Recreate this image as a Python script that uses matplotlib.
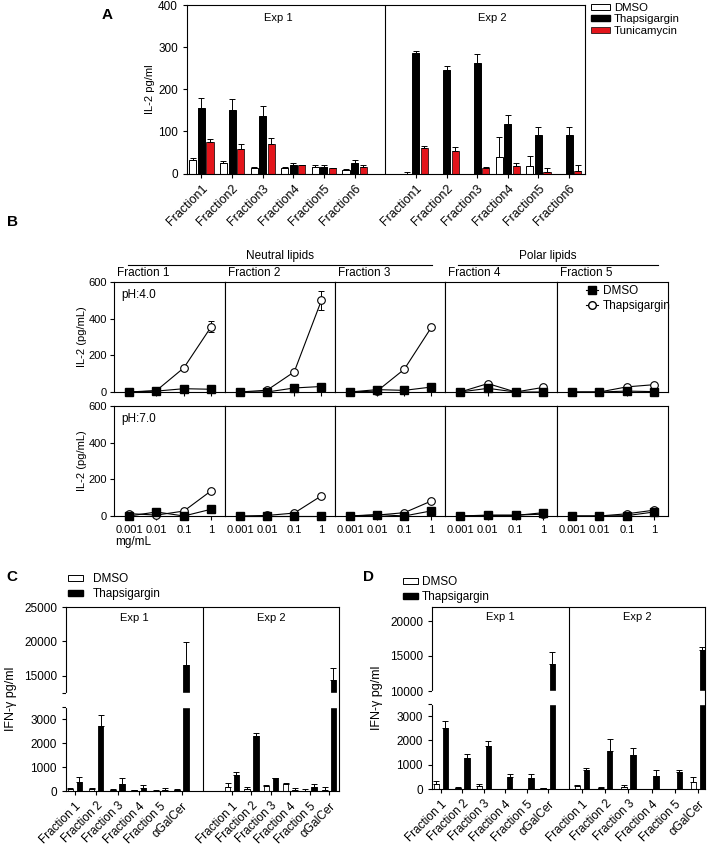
import numpy as np
import matplotlib.pyplot as plt
from matplotlib.patches import Patch
from matplotlib.lines import Line2D

plt.rcParams['font.family'] = ['Liberation Sans', 'DejaVu Sans']
plt.rcParams['font.size'] = 8
plt.rcParams['axes.linewidth'] = 0.8
plt.rcParams['xtick.major.width'] = 0.8
plt.rcParams['ytick.major.width'] = 0.8
plt.rcParams['xtick.major.size'] = 3
plt.rcParams['ytick.major.size'] = 3

# ---------------- data ----------------
# panel A: IL-2 (pg/ml)
a_labels = ['Fraction1', 'Fraction2', 'Fraction3', 'Fraction4', 'Fraction5', 'Fraction6']
a_exp1_dmso = [32, 26, 13, 13, 15, 9]
a_exp1_dmso_err = [4, 3, 3, 3, 4, 2]
a_exp1_thap = [155, 150, 137, 20, 16, 24]
a_exp1_thap_err = [25, 26, 24, 4, 3, 7]
a_exp1_tuni = [74, 59, 71, 19, 12, 15]
a_exp1_tuni_err = [7, 12, 14, 0, 0, 4]
a_exp2_dmso = [0, 0, 0, 40, 18, 0]
a_exp2_dmso_err = [3, 0, 0, 46, 24, 0]
a_exp2_thap = [286, 246, 262, 118, 92, 91]
a_exp2_thap_err = [5, 9, 22, 20, 19, 19]
a_exp2_tuni = [60, 53, 12, 17, 4, 6]
a_exp2_tuni_err = [6, 10, 4, 8, 9, 14]

# panel B: IL-2 (pg/mL) vs lipid concentration
b_conc = ['0.001', '0.01', '0.1', '1']
b_fractions = ['Fraction 1', 'Fraction 2', 'Fraction 3', 'Fraction 4', 'Fraction 5']
b_ph4_dmso = [[0, 5, 18, 15], [0, 0, 22, 30], [0, 13, 9, 27], [0, 20, 0, 0], [0, 0, 5, 2]]
b_ph4_thap = [[0, 8, 132, 357], [0, 10, 110, 500], [0, 5, 124, 353], [0, 46, 0, 25], [0, 0, 28, 40]]
b_ph4_thap_err = [[0, 0, 0, 28], [0, 0, 0, 52], [0, 0, 0, 0], [0, 0, 0, 0], [0, 0, 0, 0]]
b_ph7_dmso = [[0, 22, 0, 37], [0, 0, 0, 0], [0, 8, 0, 28], [0, 3, 3, 18], [0, 0, 2, 22]]
b_ph7_thap = [[13, 5, 27, 138], [0, 3, 16, 110], [0, 5, 18, 82], [0, 5, 5, 10], [0, 0, 12, 32]]

# panels C and D: IFN-gamma (pg/ml)
cd_labels = ['Fraction 1', 'Fraction 2', 'Fraction 3', 'Fraction 4', 'Fraction 5', 'αGalCer']
c_exp1_dmso = [90, 70, 40, 50, 20, 50]
c_exp1_dmso_err = [40, 60, 40, 10, 10, 40]
c_exp1_thap = [370, 2690, 305, 140, 60, 16600]
c_exp1_thap_err = [200, 480, 250, 100, 60, 3300]
c_exp2_dmso = [150, 90, 190, 300, 10, 60]
c_exp2_dmso_err = [180, 60, 70, 40, 60, 90]
c_exp2_thap = [680, 2280, 530, 40, 180, 14370]
c_exp2_thap_err = [100, 150, 10, 90, 110, 1730]

d_exp1_dmso = [200, 55, 130, 20, 20, 40]
d_exp1_dmso_err = [110, 20, 60, 0, 0, 0]
d_exp1_thap = [2500, 1290, 1760, 500, 460, 13900]
d_exp1_thap_err = [290, 150, 200, 110, 160, 1700]
d_exp2_dmso = [120, 50, 70, 20, 20, 300]
d_exp2_dmso_err = [60, 40, 100, 0, 0, 180]
d_exp2_thap = [790, 1550, 1410, 550, 720, 15800]
d_exp2_thap_err = [60, 510, 280, 230, 60, 550]

RED = '#e3151b'

W, H = 709, 851
fig = plt.figure(figsize=(W / 100, H / 100), dpi=100)


def rect(l, t, r, b):
    return [l / W, 1 - b / H, (r - l) / W, (b - t) / H]


def up_err(err):
    err = np.asarray(err, float)
    return [np.zeros_like(err), err]


ekw = dict(capsize=2, elinewidth=0.7, capthick=0.7, ecolor='black')

# ---------------- panel A ----------------
ax = fig.add_axes(rect(187, 5, 585, 173.5))
x1 = np.arange(6)
x2 = np.arange(6) + 7
bw = 0.23
for xs, d, de, t, te, u, ue in [
        (x1, a_exp1_dmso, a_exp1_dmso_err, a_exp1_thap, a_exp1_thap_err, a_exp1_tuni, a_exp1_tuni_err),
        (x2, a_exp2_dmso, a_exp2_dmso_err, a_exp2_thap, a_exp2_thap_err, a_exp2_tuni, a_exp2_tuni_err)]:
    ax.bar(xs - 0.28, d, bw, color='white', edgecolor='black', lw=0.7, yerr=up_err(de), error_kw=ekw)
    ax.bar(xs, t, bw, color='black', edgecolor='black', lw=0.7, yerr=up_err(te), error_kw=ekw)
    ax.bar(xs + 0.28, u, bw, color=RED, edgecolor='black', lw=0.5, yerr=up_err(ue), error_kw=ekw)
ax.axvline(6, color='black', lw=0.8)
ax.set_xlim(-0.47, 12.52)
ax.set_ylim(0, 400)
ax.set_yticks([0, 100, 200, 300, 400])
ax.tick_params(axis='y', labelsize=8.5)
ax.set_xticks(np.concatenate([x1, x2]))
ax.set_xticklabels(a_labels + a_labels, rotation=45, ha='right', rotation_mode='anchor', fontsize=9)
ax.set_ylabel('IL-2 pg/ml')
ax.yaxis.set_label_coords(-0.08, 0.5)
ax.text(2.5, 0.95, 'Exp 1', transform=ax.get_xaxis_transform(), ha='center', va='top')
ax.text(9.5, 0.95, 'Exp 2', transform=ax.get_xaxis_transform(), ha='center', va='top')
handles = [Patch(facecolor='white', edgecolor='black', lw=0.7),
           Patch(facecolor='black', edgecolor='black'),
           Patch(facecolor=RED, edgecolor='black', lw=0.5)]
fig.legend(handles, ['DMSO', 'Thapsigargin', 'Tunicamycin'], loc='upper left',
           bbox_to_anchor=(591 / W, 1 - 3 / H), frameon=False, handlelength=1.7,
           handleheight=0.45, handletextpad=0.3, labelspacing=0.12, borderpad=0,
           borderaxespad=0, fontsize=8.2)

# ---------------- panel B ----------------
col_edges = [114, 225, 335, 445, 557, 668]
rows = [(282, 392, b_ph4_dmso, b_ph4_thap, b_ph4_thap_err, 'pH:4.0'),
        (406, 516, b_ph7_dmso, b_ph7_thap, None, 'pH:7.0')]
xc = np.arange(4)
for ri, (top, bot, dm, th, the, ph) in enumerate(rows):
    for ci in range(5):
        ax = fig.add_axes(rect(col_edges[ci], top, col_edges[ci + 1], bot))
        ax.plot(xc, th[ci], color='black', lw=0.8, marker='o', ms=5.5, mfc='white',
                mec='black', mew=0.8, clip_on=False, zorder=3)
        if the is not None and any(th_e > 0 for th_e in the[ci]):
            ax.errorbar(xc, th[ci], yerr=the[ci], fmt='none', ecolor='black',
                        elinewidth=0.7, capsize=2, capthick=0.7, zorder=2)
        ax.plot(xc, dm[ci], color='black', lw=0.8, marker='s', ms=5.5, clip_on=False, zorder=4)
        ax.set_xlim(-0.55, 3.5)
        ax.set_ylim(0, 600)
        ax.set_xticks(xc)
        if ri == 1:
            ax.set_xticklabels(b_conc, fontsize=8)
        else:
            ax.set_xticklabels([])
            ax.text(0.03, 1.03, b_fractions[ci], transform=ax.transAxes, ha='left',
                    va='bottom', fontsize=8.5)
        if ci == 0:
            ax.set_yticks([0, 200, 400, 600])
            ax.tick_params(axis='y', labelsize=8, pad=2)
            ax.set_ylabel('IL-2 (pg/mL)', fontsize=8)
            ax.yaxis.set_label_coords(-0.24, 0.5)
            ax.text(0.065, 0.935, ph, transform=ax.transAxes, ha='left', va='top', fontsize=8.5)
        else:
            ax.set_yticks([])
        if ri == 0 and ci == 4:
            hl = [Line2D([], [], color='black', lw=0.8, marker='s', ms=5.5),
                  Line2D([], [], color='black', lw=0.8, marker='o', ms=5.5, mfc='white')]
            fig.legend(hl, ['DMSO', 'Thapsigargin'], loc='upper left',
                       bbox_to_anchor=(586 / W, 1 - 285 / H), frameon=False,
                       handlelength=1.0, handletextpad=0.4, labelspacing=0.25,
                       borderpad=0, borderaxespad=0, fontsize=8.5)

fig.text(115 / W, 1 - 542 / H, 'mg/mL', ha='left', va='center', fontsize=8.5)
fig.text(280 / W, 1 - 256 / H, 'Neutral lipids', ha='center', va='center', fontsize=8.5)
fig.text(548 / W, 1 - 256 / H, 'Polar lipids', ha='center', va='center', fontsize=8.5)
fig.add_artist(Line2D([128 / W, 432 / W], [1 - 265 / H] * 2, color='black', lw=0.8))
fig.add_artist(Line2D([458 / W, 658 / W], [1 - 265 / H] * 2, color='black', lw=0.8))


# ---------------- panels C and D ----------------
def ifn_panel(box, brk, yticks, ytlabels, data, x1, x2, div, xlim, legend_xy, textpad):
    bp, px = brk
    ax = fig.add_axes(rect(*box))
    ax.set_yscale('function', functions=(lambda v: np.interp(v, bp, px),
                                         lambda u: np.interp(u, px, bp)))
    (d1, d1e, t1, t1e), (d2, d2e, t2, t2e) = data
    w = 0.25
    for xs, d, de, t, te in [(x1, d1, d1e, t1, t1e), (x2, d2, d2e, t2, t2e)]:
        ax.bar(xs - 0.21, d, w, color='white', edgecolor='black', lw=0.6,
               yerr=up_err(de), error_kw=ekw)
        ax.bar(xs + 0.21, t, w, color='black', edgecolor='black', lw=0.6,
               yerr=up_err(te), error_kw=ekw)
    ax.set_ylim(0, bp[-1])
    ax.set_xlim(*xlim)
    # axis break
    ax.axhspan(bp[1], bp[2], color='white', zorder=2.4)
    ax.spines['left'].set_visible(False)
    tr = ax.get_yaxis_transform()
    ax.plot([0, 0], [0, bp[1]], color='black', lw=0.8, transform=tr, clip_on=False)
    ax.plot([0, 0], [bp[2], bp[3]], color='black', lw=0.8, transform=tr, clip_on=False)
    ax.axvline(div, color='black', lw=0.8, zorder=3)
    ax.set_yticks(yticks)
    ax.set_yticklabels(ytlabels, fontsize=8.5)
    ax.set_xticks(np.concatenate([x1, x2]))
    ax.set_xticklabels(cd_labels + cd_labels, rotation=45, ha='right',
                       rotation_mode='anchor', fontsize=8.5)
    ax.set_ylabel('IFN-γ pg/ml', fontsize=9)
    ax.yaxis.set_label_coords(-0.178, 0.5)
    ax.text((xlim[0] + div) / 2, 0.97, 'Exp 1', transform=ax.get_xaxis_transform(),
            ha='center', va='top')
    ax.text((xlim[1] + div) / 2, 0.97, 'Exp 2', transform=ax.get_xaxis_transform(),
            ha='center', va='top')
    hl = [Patch(facecolor='white', edgecolor='black', lw=0.7),
          Patch(facecolor='black', edgecolor='black')]
    fig.legend(hl, ['DMSO', 'Thapsigargin'], loc='upper left',
               bbox_to_anchor=(legend_xy[0] / W, 1 - legend_xy[1] / H), frameon=False,
               handlelength=1.3, handleheight=0.45, handletextpad=textpad, labelspacing=0.25,
               borderpad=0, borderaxespad=0, fontsize=8.5)
    return ax


ifn_panel((66, 607, 339, 791), ([0, 3500, 12500, 25000], [0, 84, 98, 184]),
          [0, 1000, 2000, 3000, 3500, 12500, 15000, 20000, 25000],
          ['0', '1000', '2000', '3000', '', '', '15000', '20000', '25000'],
          [(c_exp1_dmso, c_exp1_dmso_err, c_exp1_thap, c_exp1_thap_err),
           (c_exp2_dmso, c_exp2_dmso_err, c_exp2_thap, c_exp2_thap_err)],
          np.arange(6), 7.37 + np.arange(6) * 0.91, 6.0, (-0.42, 12.39), (68, 573), 0.8)

ifn_panel((432, 607, 705, 789), ([0, 3500, 10000, 22000], [0, 85, 98, 182]),
          [0, 1000, 2000, 3000, 3500, 10000, 15000, 20000],
          ['0', '1000', '2000', '3000', '', '10000', '15000', '20000'],
          [(d_exp1_dmso, d_exp1_dmso_err, d_exp1_thap, d_exp1_thap_err),
           (d_exp2_dmso, d_exp2_dmso_err, d_exp2_thap, d_exp2_thap_err)],
          np.arange(6), 6.59 + np.arange(6) * 1.084, 5.98, (-0.42, 12.34), (403, 576), 0.3)

# panel letters
for lab, x, y in [('A', 107, 15), ('B', 12, 222), ('C', 12, 577), ('D', 368, 577)]:
    fig.text(x / W, 1 - y / H, lab, fontsize=11, weight='bold', ha='center', va='center')

fig.savefig('out.png', dpi=100)
